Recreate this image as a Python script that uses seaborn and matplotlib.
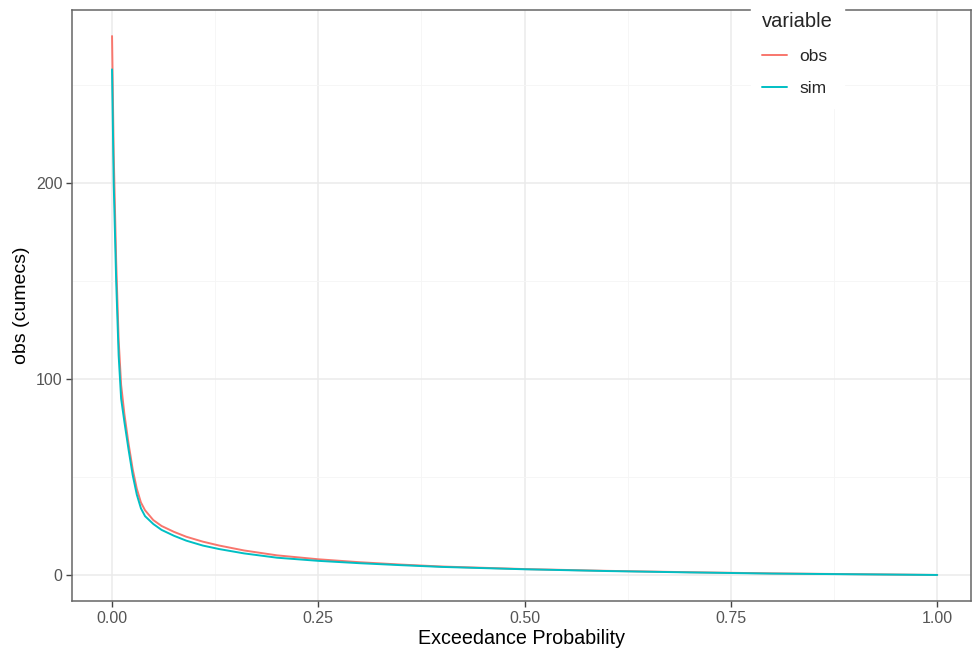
import numpy as np
import pandas as pd
import matplotlib
matplotlib.use("Agg")
import matplotlib.pyplot as plt
from matplotlib.lines import Line2D
import seaborn as sns

# Data
obs_p = [0.000, 0.002, 0.005, 0.008, 0.011, 0.015, 0.020, 0.025, 0.030, 0.035, 0.040,
         0.050, 0.060, 0.075, 0.090, 0.110, 0.130, 0.160, 0.200, 0.250, 0.300, 0.350,
         0.400, 0.500, 0.600, 0.700, 0.750, 0.800, 0.900, 1.000]
obs_v = [275, 215, 160, 120, 97, 82, 67, 54, 44, 37, 33,
         28, 25, 22, 19.5, 17, 15, 12.5, 10, 8, 6.5, 5.3,
         4.3, 3.0, 2.1, 1.4, 1.1, 0.8, 0.4, 0.0]
sim_p = [0.000, 0.002, 0.005, 0.008, 0.011, 0.015, 0.020, 0.025, 0.030, 0.035, 0.040,
         0.050, 0.060, 0.075, 0.090, 0.110, 0.130, 0.160, 0.200, 0.250, 0.300, 0.350,
         0.400, 0.500, 0.600, 0.700, 0.750, 0.800, 0.900, 1.000]
sim_v = [258, 200, 150, 112, 90, 78, 64, 51, 41, 34, 30,
         26, 23, 20, 17.5, 15, 13.2, 11, 8.8, 7.2, 6.0, 5.0,
         4.1, 2.9, 2.0, 1.3, 1.0, 0.7, 0.35, 0.0]
x_ticks = [0.0, 0.25, 0.5, 0.75, 1.0]
x_tick_labels = ["0.00", "0.25", "0.50", "0.75", "1.00"]
y_ticks = [0, 100, 200]
y_tick_labels = ["0", "100", "200"]
series_names = ["obs", "sim"]
series_colors = ["#F8766D", "#00BFC4"]

df = pd.concat([
    pd.DataFrame({"p": obs_p, "value": obs_v, "variable": "obs"}),
    pd.DataFrame({"p": sim_p, "value": sim_v, "variable": "sim"}),
], ignore_index=True)

sns.set_theme(style="white")
plt.rcParams["font.family"] = ["Liberation Sans", "DejaVu Sans"]

fig = plt.figure(figsize=(9.72, 6.53), dpi=100)
ax = fig.add_axes([0.0741, 0.0796, 0.9249, 0.9051])

sns.lineplot(data=df, x="p", y="value", hue="variable", hue_order=series_names,
             palette=series_colors, linewidth=1.4, ax=ax, legend=False,
             estimator=None, sort=False, zorder=3)

ax.set_xlim(-0.0485, 1.041)
ax.set_ylim(-13.3, 288.3)

ax.set_xticks(x_ticks)
ax.set_xticklabels(x_tick_labels)
ax.set_yticks(y_ticks)
ax.set_yticklabels(y_tick_labels)
ax.set_xticks([0.125, 0.375, 0.625, 0.875], minor=True)
ax.set_yticks([50, 150, 250], minor=True)

ax.grid(True, which="major", color="#EBEBEB", linewidth=1.1, zorder=0)
ax.grid(True, which="minor", color="#F5F5F5", linewidth=0.6, zorder=0)
ax.set_axisbelow(True)

for s in ax.spines.values():
    s.set_color("#666666")
    s.set_linewidth(1.1)
    s.set_visible(True)

ax.tick_params(axis="both", which="major", length=4, width=1.0, color="#444444",
               labelsize=11.5, labelcolor="#555555", direction="out",
               bottom=True, left=True, pad=3)
ax.tick_params(axis="both", which="minor", length=0)

ax.set_xlabel("Exceedance Probability", fontsize=14.2, color="black", labelpad=2)
ax.set_ylabel("obs (cumecs)", fontsize=14, color="black", labelpad=4)

handles = [Line2D([0], [0], color=c, lw=1.4) for c in series_colors]
leg = ax.legend(handles, series_names, title="variable", loc="upper left",
                bbox_to_anchor=(751 / 972, 1 - 1 / 653), bbox_transform=fig.transFigure,
                frameon=True, fancybox=False, facecolor="white", edgecolor="white",
                framealpha=1.0, fontsize=12.5, title_fontsize=14.5,
                handlelength=1.45, handletextpad=0.7, labelspacing=1.0,
                borderpad=0.65, borderaxespad=0)
leg._legend_box.align = "left"
leg.set_zorder(10)

fig.savefig("out.png", dpi=100, facecolor="white")
